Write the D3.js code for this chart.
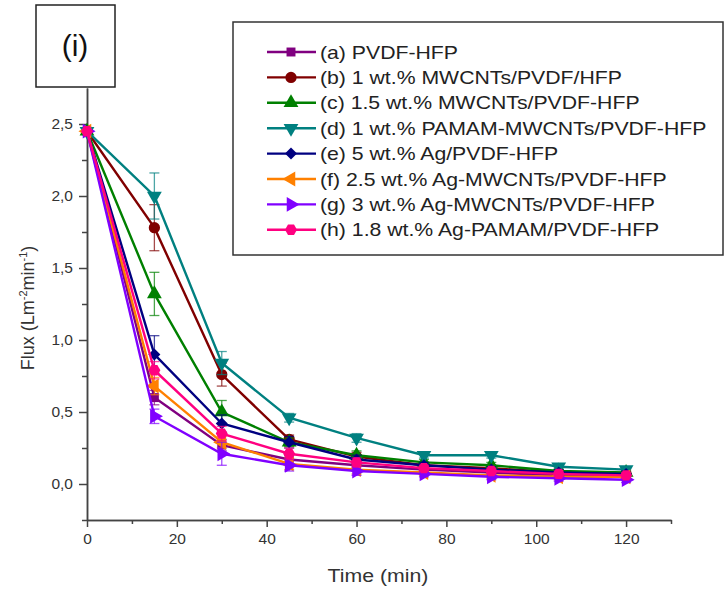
<!DOCTYPE html>
<html>
<head>
<meta charset="utf-8">
<script src="https://cdn.jsdelivr.net/npm/d3@7"></script>
<style>
  body { margin: 0; background: #fff; }
  text { font-family: "Liberation Sans", Arial, sans-serif; }
</style>
</head>
<body>
<div id="container"></div>
<script>
var width = 726,
    height = 590;

// time points (min)
var times = [0, 15, 30, 45, 60, 75, 90, 105, 120];

var labels = [
  "(a) PVDF-HFP",
  "(b) 1 wt.% MWCNTs/PVDF/HFP",
  "(c) 1.5 wt.% MWCNTs/PVDF-HFP",
  "(d) 1 wt.% PAMAM-MWCNTs/PVDF-HFP",
  "(e) 5 wt.% Ag/PVDF-HFP",
  "(f) 2.5 wt.% Ag-MWCNTs/PVDF-HFP",
  "(g) 3 wt.% Ag-MWCNTs/PVDF-HFP",
  "(h) 1.8 wt.% Ag-PAMAM/PVDF-HFP"
];

var fluxA = [2.45, 0.60, 0.27, 0.17, 0.13, 0.10, 0.08, 0.06, 0.05];
var fluxB = [2.45, 1.78, 0.76, 0.31, 0.19, 0.13, 0.11, 0.08, 0.07];
var fluxC = [2.45, 1.32, 0.50, 0.29, 0.20, 0.15, 0.13, 0.09, 0.08];
var fluxD = [2.45, 2.00, 0.84, 0.46, 0.32, 0.20, 0.20, 0.12, 0.10];
var fluxE = [2.45, 0.90, 0.42, 0.29, 0.17, 0.13, 0.10, 0.08, 0.07];
var fluxF = [2.45, 0.68, 0.29, 0.14, 0.10, 0.08, 0.06, 0.05, 0.05];
var fluxG = [2.45, 0.47, 0.21, 0.13, 0.09, 0.07, 0.05, 0.04, 0.03];
var fluxH = [2.45, 0.79, 0.35, 0.21, 0.15, 0.11, 0.09, 0.07, 0.06];

// error bar half widths
var errA = [0.02, 0.05, 0.04, 0.03, 0.03, 0.02, 0.02, 0.02, 0.02];
var errB = [0.02, 0.16, 0.08, 0.03, 0.03, 0.02, 0.02, 0.02, 0.02];
var errC = [0.02, 0.15, 0.08, 0.03, 0.03, 0.02, 0.02, 0.02, 0.02];
var errD = [0.02, 0.16, 0.08, 0.03, 0.03, 0.02, 0.02, 0.02, 0.02];
var errE = [0.02, 0.13, 0.06, 0.04, 0.03, 0.02, 0.02, 0.02, 0.02];
var errF = [0.02, 0.06, 0.04, 0.04, 0.03, 0.02, 0.02, 0.02, 0.02];
var errG = [0.02, 0.05, 0.08, 0.04, 0.03, 0.02, 0.02, 0.02, 0.02];
var errH = [0.02, 0.06, 0.05, 0.04, 0.03, 0.02, 0.02, 0.02, 0.02];

var colors = ["#800080", "#800000", "#008000", "#008080", "#000080", "#ff8000", "#8000ff", "#ff0080"];
var shapes = ["square", "circle", "up", "down", "diamond", "left", "right", "hexagon"];

var fluxes = [fluxA, fluxB, fluxC, fluxD, fluxE, fluxF, fluxG, fluxH];
var errs = [errA, errB, errC, errD, errE, errF, errG, errH];

var series = labels.map(function(l, i) {
  return {
    label: l, color: colors[i], shape: shapes[i],
    values: times.map(function(t, j) { return {t: t, v: fluxes[i][j], e: errs[i][j]}; })
  };
});

var svg = d3.select("#container").append("svg")
  .attr("width", width)
  .attr("height", height);

var x = d3.scaleLinear().domain([0, 130]).range([87, 671]);
var y = d3.scaleLinear().domain([-0.25, 2.75]).range([520, 88]);

var axisColor = "#444";
var comma = function(d) { return d3.format(".1f")(d).replace(".", ","); };

// x axis, major + minor
svg.append("g").attr("transform", "translate(0,520)")
  .call(d3.axisBottom(x).tickValues([0, 20, 40, 60, 80, 100, 120]).tickSize(7).tickPadding(6).tickSizeOuter(0));
svg.append("g").attr("transform", "translate(0,520)")
  .call(d3.axisBottom(x).tickValues([10, 30, 50, 70, 90, 110, 130]).tickSize(4).tickFormat("").tickSizeOuter(0));

svg.append("g").attr("transform", "translate(87,0)")
  .call(d3.axisLeft(y).tickValues([0, 0.5, 1, 1.5, 2, 2.5]).tickSize(8).tickPadding(6).tickFormat(comma).tickSizeOuter(0));
svg.append("g").attr("transform", "translate(87,0)")
  .call(d3.axisLeft(y).tickValues([-0.25, 0.25, 0.75, 1.25, 1.75, 2.25]).tickSize(5).tickFormat("").tickSizeOuter(0));

svg.selectAll(".domain").attr("stroke", axisColor).attr("stroke-width", 1.5);
svg.selectAll(".tick line").attr("stroke", axisColor).attr("stroke-width", 1.5);
svg.selectAll(".tick text").attr("fill", "#333").style("font-size", "15.5px")
  .style("font-family", "'Liberation Sans', Arial, sans-serif");

// axis titles
svg.append("text")
  .attr("transform", "translate(378,582) scale(1.12,1)")
  .attr("text-anchor", "middle")
  .attr("fill", "#333")
  .style("font-size", "19px")
  .text("Time (min)");

var yt = svg.append("text")
  .attr("transform", "translate(34,308) rotate(-90)")
  .attr("text-anchor", "middle")
  .attr("fill", "#333")
  .style("font-size", "18px");
yt.append("tspan").text("Flux (Lm");
yt.append("tspan").attr("dy", -7).style("font-size", "11px").text("-2");
yt.append("tspan").attr("dy", 7).text("min");
yt.append("tspan").attr("dy", -7).style("font-size", "11px").text("-1");
yt.append("tspan").attr("dy", 7).text(")");

// marker paths
function hexagon(r) {
  var pts = d3.range(6).map(function(k) {
    var a = Math.PI / 3 * k;
    return [r * Math.cos(a), r * Math.sin(a)];
  });
  return "M" + pts.join("L") + "Z";
}
function marker(shape) {
  if (shape === "square") return {d: d3.symbol(d3.symbolSquare, 80)(), rot: 0};
  if (shape === "circle") return {d: d3.symbol(d3.symbolCircle, 100)(), rot: 0};
  if (shape === "up") return {d: d3.symbol(d3.symbolTriangle, 95)(), rot: 0};
  if (shape === "down") return {d: d3.symbol(d3.symbolTriangle, 95)(), rot: 180};
  if (shape === "diamond") return {d: d3.symbol(d3.symbolSquare, 72)(), rot: 45};
  if (shape === "left") return {d: d3.symbol(d3.symbolTriangle, 95)(), rot: -90};
  if (shape === "right") return {d: d3.symbol(d3.symbolTriangle, 95)(), rot: 90};
  return {d: hexagon(6), rot: 0};
}

var line = d3.line()
  .x(function(d) { return x(d.t); })
  .y(function(d) { return y(d.v); });

var plot = svg.append("g");

series.forEach(function(s) {
  var g = plot.append("g");
  var m = marker(s.shape);

  // error bars
  var eb = g.selectAll(".eb").data(s.values.filter(function(d) { return d.t > 0; }))
    .enter().append("g")
    .attr("stroke", s.color).attr("stroke-opacity", 0.7).attr("stroke-width", 1.3);
  eb.append("line")
    .attr("x1", function(d) { return x(d.t); }).attr("x2", function(d) { return x(d.t); })
    .attr("y1", function(d) { return y(d.v - d.e); }).attr("y2", function(d) { return y(d.v + d.e); });
  eb.append("line")
    .attr("x1", function(d) { return x(d.t) - 5; }).attr("x2", function(d) { return x(d.t) + 5; })
    .attr("y1", function(d) { return y(d.v + d.e); }).attr("y2", function(d) { return y(d.v + d.e); });
  eb.append("line")
    .attr("x1", function(d) { return x(d.t) - 5; }).attr("x2", function(d) { return x(d.t) + 5; })
    .attr("y1", function(d) { return y(d.v - d.e); }).attr("y2", function(d) { return y(d.v - d.e); });

  g.append("path")
    .datum(s.values)
    .attr("d", line)
    .attr("fill", "none")
    .attr("stroke", s.color)
    .attr("stroke-width", 2.4);

  g.selectAll(".pt").data(s.values)
    .enter().append("path")
    .attr("d", m.d)
    .attr("transform", function(d) { return "translate(" + x(d.t) + "," + y(d.v) + ") rotate(" + m.rot + ")"; })
    .attr("fill", s.color);
});

// legend
svg.append("rect")
  .attr("x", 233).attr("y", 22)
  .attr("width", 490).attr("height", 233)
  .attr("fill", "#fff")
  .attr("stroke", "#333")
  .attr("stroke-width", 1.5);

var legend = svg.append("g");
series.forEach(function(s, i) {
  var ly = 52 + i * 25.4;
  var m = marker(s.shape);
  legend.append("line")
    .attr("x1", 267).attr("x2", 316)
    .attr("y1", ly).attr("y2", ly)
    .attr("stroke", s.color).attr("stroke-width", 2.4);
  legend.append("path")
    .attr("d", m.d)
    .attr("transform", "translate(291," + ly + ") rotate(" + m.rot + ")")
    .attr("fill", s.color);
  legend.append("text")
    .attr("transform", "translate(320," + (ly + 6.5) + ") scale(1.18,1)")
    .attr("fill", "#222")
    .style("font-size", "18px")
    .text(s.label);
});

// panel label
svg.append("rect")
  .attr("x", 36).attr("y", 5)
  .attr("width", 79).attr("height", 82)
  .attr("fill", "#fff")
  .attr("stroke", "#222")
  .attr("stroke-width", 1.5);
svg.append("text")
  .attr("x", 75).attr("y", 56)
  .attr("text-anchor", "middle")
  .attr("fill", "#111")
  .style("font-size", "30px")
  .text("(i)");
</script>
</body>
</html>
